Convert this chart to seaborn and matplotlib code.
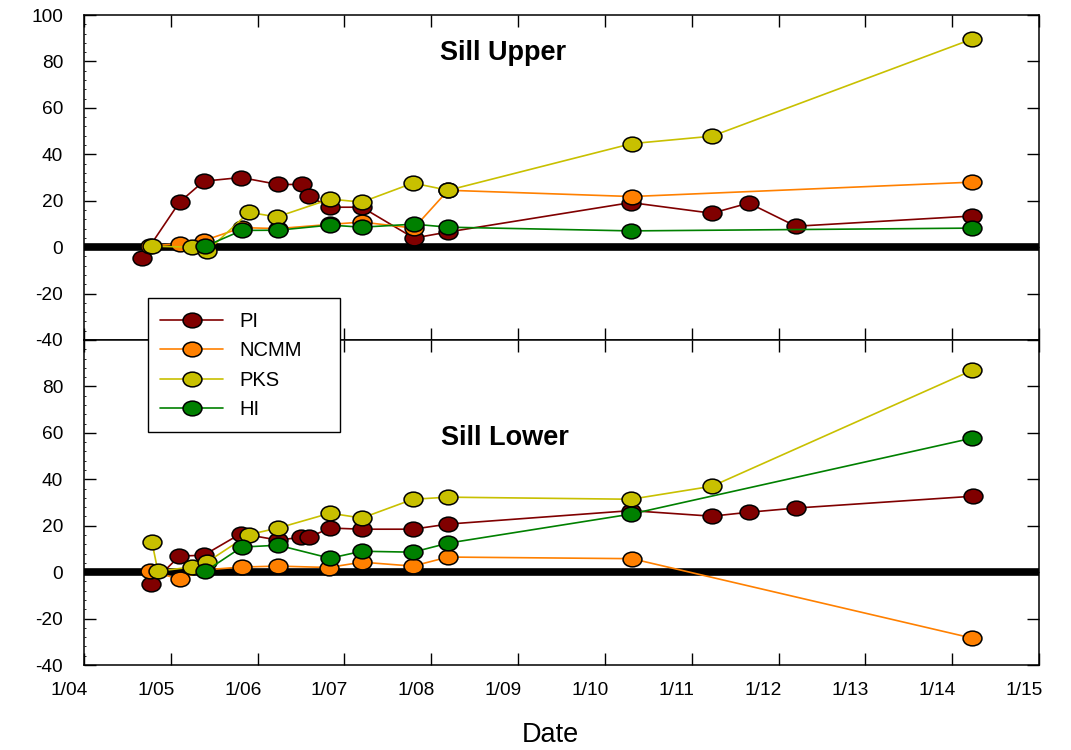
import numpy as np
import pandas as pd
import matplotlib
matplotlib.use("Agg")
import matplotlib.pyplot as plt
import matplotlib.dates as mdates
from matplotlib.lines import Line2D
from matplotlib.path import Path
from matplotlib.patches import Rectangle
from matplotlib.ticker import FixedLocator, FuncFormatter, MultipleLocator
from matplotlib.transforms import ScaledTranslation
import seaborn as sns

# ---------------- data ----------------
series_names = ["PI", "NCMM", "PKS", "HI"]
series_colors = ["#800000", "#FF8000", "#C8C000", "#008000"]

# Sill Upper
up_pi_dates = ["2004-09-01", "2005-02-06", "2005-05-19", "2005-10-22", "2006-03-28", "2006-07-05",
               "2006-08-04", "2006-11-01", "2007-03-15", "2007-10-20", "2008-03-10", "2010-04-20",
               "2011-03-27", "2011-08-29", "2012-03-14", "2014-03-25"]
up_pi = [-4.6, 19.4, 28.4, 30.0, 27.0, 27.0, 22.0, 17.2, 17.2, 3.9, 6.5, 19.2, 14.6, 19.0, 9.0, 13.4]

up_ncmm_dates = ["2004-10-05", "2005-02-08", "2005-05-19", "2005-10-26", "2006-03-28", "2006-11-01",
                 "2007-03-15", "2007-10-20", "2008-03-12", "2010-04-24", "2014-03-25"]
up_ncmm = [0.5, 1.5, 2.8, 8.4, 8.0, 9.8, 10.8, 8.2, 24.5, 21.8, 28.0]

up_pks_dates = ["2004-10-13", "2005-03-29", "2005-06-01", "2005-11-25", "2006-03-23", "2006-11-01",
                "2007-03-15", "2007-10-16", "2008-03-12", "2010-04-24", "2011-03-27", "2014-03-25"]
up_pks = [0.4, 0.0, -1.8, 15.0, 13.0, 20.7, 19.4, 27.6, 24.5, 44.6, 47.8, 89.6]

up_hi_dates = ["2005-05-26", "2005-10-26", "2006-03-28", "2006-11-01", "2007-03-15", "2007-10-20",
               "2008-03-12", "2010-04-20", "2014-03-25"]
up_hi = [0.4, 7.2, 7.3, 9.5, 8.6, 9.9, 8.6, 7.0, 8.2]

# Sill Lower
lo_pi_dates = ["2004-10-09", "2005-02-05", "2005-05-19", "2005-10-22", "2006-03-28", "2006-07-01",
               "2006-08-04", "2006-11-01", "2007-03-15", "2007-10-16", "2008-03-12", "2010-04-20",
               "2011-03-27", "2011-08-29", "2012-03-14", "2014-03-28"]
lo_pi = [-5.2, 6.9, 7.3, 16.6, 13.8, 15.0, 15.0, 19.0, 18.5, 18.5, 20.7, 26.5, 24.1, 25.8, 27.6, 32.7]

lo_ncmm_dates = ["2004-10-05", "2005-02-08", "2005-05-26", "2005-10-26", "2006-03-28", "2006-10-27",
                 "2007-03-15", "2007-10-16", "2008-03-12", "2010-04-24", "2014-03-25"]
lo_ncmm = [0.4, -3.0, 1.0, 2.2, 2.6, 2.0, 4.3, 2.6, 6.5, 5.8, -28.4]

lo_pks_dates = ["2004-10-13", "2004-11-07", "2005-03-29", "2005-06-01", "2005-11-25", "2006-03-28",
                "2006-11-01", "2007-03-15", "2007-10-16", "2008-03-12", "2010-04-20", "2011-03-27",
                "2014-03-25"]
lo_pks = [12.9, 0.4, 2.2, 4.3, 16.2, 19.0, 25.4, 23.3, 31.4, 32.3, 31.4, 37.0, 86.9]

lo_hi_dates = ["2005-05-26", "2005-10-26", "2006-03-28", "2006-11-01", "2007-03-15", "2007-10-16",
               "2008-03-12", "2010-04-20", "2014-03-25"]
lo_hi = [0.4, 10.8, 11.6, 6.0, 9.0, 8.6, 12.5, 25.0, 57.7]

y_ticks = [-40, -20, 0, 20, 40, 60, 80, 100]
panel_titles = ["Sill Upper", "Sill Lower"]
x_label = "Date"


def make_frame(dates_list, values_list):
    frames = []
    for name, d, v in zip(series_names, dates_list, values_list):
        frames.append(pd.DataFrame({"date": pd.to_datetime(d), "value": v, "series": name}))
    return pd.concat(frames, ignore_index=True)


upper_df = make_frame([up_pi_dates, up_ncmm_dates, up_pks_dates, up_hi_dates],
                      [up_pi, up_ncmm, up_pks, up_hi])
lower_df = make_frame([lo_pi_dates, lo_ncmm_dates, lo_pks_dates, lo_hi_dates],
                      [lo_pi, lo_ncmm, lo_pks, lo_hi])

# ---------------- style ----------------
sns.set_style("ticks")
plt.rcParams["font.family"] = ["Liberation Sans", "DejaVu Sans"]
plt.rcParams["text.color"] = "black"
plt.rcParams["xtick.color"] = "black"
plt.rcParams["ytick.color"] = "black"
plt.rcParams["axes.labelcolor"] = "black"

W, H = 1071, 750
fig = plt.figure(figsize=(W / 100, H / 100), dpi=100)

left, right = 84 / W, 1039 / W
top_ax = fig.add_axes([left, 1 - 340 / H, right - left, 325 / H])
bot_ax = fig.add_axes([left, 1 - 665 / H, right - left, 325 / H], sharex=top_ax)

# ellipse marker (slightly wider than tall)
circ = Path.unit_circle()
ell = Path(circ.vertices * np.array([1.0, 0.78]), circ.codes)

palette = dict(zip(series_names, series_colors))
MS = 13.6
line_kws = dict(marker=ell, markersize=MS, markeredgecolor="black", markeredgewidth=1.1,
                linewidth=1.2)

for ax, df, title, tpos in [(top_ax, upper_df, panel_titles[0], (0.439, 0.882)),
                            (bot_ax, lower_df, panel_titles[1], (0.441, 0.70))]:
    ax.axhline(0, color="black", linewidth=5.5, zorder=1)
    for i, name in enumerate(series_names):
        sub = df[df["series"] == name]
        sns.lineplot(data=sub, x="date", y="value", color=palette[name], ax=ax,
                     estimator=None, errorbar=None, legend=False, zorder=3 + i, **line_kws)
    ax.set_ylim(-40, 100)
    ax.set_xlim(pd.Timestamp("2004-01-01"), pd.Timestamp("2015-01-01"))
    ax.yaxis.set_major_locator(FixedLocator(y_ticks))
    ax.yaxis.set_minor_locator(MultipleLocator(4))
    ax.set_xlabel("")
    ax.set_ylabel("")
    ax.text(tpos[0], tpos[1], title, transform=ax.transAxes, ha="center", va="center",
            fontsize=19.5, fontweight="bold", color="black")
    for s in ax.spines.values():
        s.set_linewidth(1.1)
        s.set_color("black")
    ax.tick_params(axis="both", which="major", direction="in", length=8.5, width=1.0,
                   top=True, right=True, labelsize=13.8, colors="black")
    ax.tick_params(axis="y", which="major", pad=15)
    ax.tick_params(axis="y", which="minor", direction="in", length=1.5, width=0.6,
                   left=True, right=False)
    ax.tick_params(axis="x", which="minor", bottom=False, top=False)

bot_ax.xaxis.set_major_locator(mdates.YearLocator())
bot_ax.xaxis.set_major_formatter(
    FuncFormatter(lambda x, pos: f"{mdates.num2date(x).month}/{mdates.num2date(x).year % 100:02d}"))
bot_ax.tick_params(axis="x", pad=12)
top_ax.tick_params(axis="x", labelbottom=False)

bot_ax.yaxis.set_major_formatter(FuncFormatter(lambda v, pos: "" if v >= 100 else f"{int(v)}"))
top_ax.yaxis.set_major_formatter(FuncFormatter(lambda v, pos: f"{int(v)}"))

fig.canvas.draw()
offset = ScaledTranslation(-15 / 100, 0, fig.dpi_scale_trans)
for lab in bot_ax.get_xticklabels():
    lab.set_transform(lab.get_transform() + offset)

fig.text(550 / W, 1 - 735 / H, x_label, ha="center", va="center", fontsize=19.5, color="black")

# legend: entries without frame, plus a box drawn to the reference size
handles = [Line2D([0], [0], color=c, linewidth=1.2, marker=ell, markersize=MS,
                  markerfacecolor=c, markeredgecolor="black", markeredgewidth=1.1)
           for c in series_colors]
box = Rectangle((148 / W, 1 - 432 / H), (340 - 148) / W, (432 - 298) / H,
                transform=fig.transFigure, facecolor="white", edgecolor="black",
                linewidth=1.0, zorder=19)
fig.add_artist(box)
leg = fig.legend(handles, series_names, loc="upper left",
                 bbox_to_anchor=(160 / W, 1 - 312 / H), bbox_transform=fig.transFigure,
                 fontsize=14.5, frameon=False, borderaxespad=0, borderpad=0,
                 handlelength=3.15, handletextpad=0.8, labelspacing=0.52)
leg.set_zorder(20)

fig.savefig("out.png", dpi=100, facecolor="white")
